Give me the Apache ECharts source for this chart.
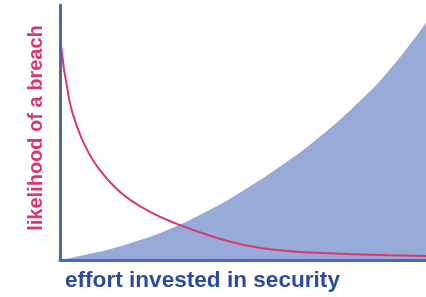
<!DOCTYPE html>
<html>
<head>
<meta charset="utf-8">
<script src="https://cdn.jsdelivr.net/npm/echarts@6/dist/echarts.min.js"></script>
<style>
  html, body { margin: 0; padding: 0; background: #fff; }
  #chart { width: 426px; height: 297px; }
</style>
</head>
<body>
<div id="chart"></div>
<script>
// effort axis (0..100) and the two curves
var breachX = [0, 2.5, 5, 7.5, 10, 15, 20, 25, 30, 40, 50, 60, 70, 80, 90, 100];
var breachY = [87.5, 63, 51, 43, 37, 28.5, 22.8, 18.6, 15.3, 10.0, 6.0, 3.8, 2.8, 2.3, 1.9, 1.6];

var costX = [0, 10, 20, 30, 40, 50, 60, 70, 80, 90, 100];
var costY = [0, 3.0, 7.0, 12.2, 19.0, 27.2, 36.6, 47.2, 59.7, 74.5, 93.0];

var axisColor = '#4a68b8';
var pink = '#d9386f';

function pairs(xs, ys) {
	var out = [];
	for (var i = 0; i < xs.length; i++) {
		out.push([xs[i], ys[i]]);
	}
	return out;
}

var chart = echarts.init(document.getElementById('chart'));
chart.setOption({
	animation: false,
	grid: { left: 60, right: 0, top: 5, bottom: 37 },
	xAxis: {
		type: 'value', min: 0, max: 100, z: 10,
		axisLine: { show: true, lineStyle: { color: axisColor, width: 3 } },
		axisTick: { show: false }, axisLabel: { show: false }, splitLine: { show: false }
	},
	yAxis: {
		type: 'value', min: 0, max: 100, z: 10,
		axisLine: { show: true, lineStyle: { color: axisColor, width: 3 } },
		axisTick: { show: false }, axisLabel: { show: false }, splitLine: { show: false }
	},
	series: [{
		//投入成本
		type: 'line',
		data: pairs(costX, costY),
		smooth: true,
		showSymbol: false,
		lineStyle: { width: 0 },
		areaStyle: { color: '#97aad8', opacity: 1 },
		z: 2
	}, {
		//泄露可能性
		type: 'line',
		data: pairs(breachX, breachY),
		smooth: true,
		showSymbol: false,
		lineStyle: { color: pink, width: 2 },
		z: 3
	}],
	graphic: [{
		type: 'text',
		x: 36, y: 128,
		rotation: Math.PI / 2,
		style: {
			text: 'likelihood of a breach',
			fill: pink,
			font: 'bold 20px "Liberation Sans", Arial, sans-serif',
			textAlign: 'center',
			textVerticalAlign: 'middle'
		}
	}, {
		type: 'text',
		x: 65, y: 281,
		style: {
			text: 'effort invested in security',
			fill: '#2d4a9c',
			font: 'bold 22.6px "Liberation Sans", Arial, sans-serif',
			textAlign: 'left',
			textVerticalAlign: 'middle'
		}
	}]
});
</script>
</body>
</html>
